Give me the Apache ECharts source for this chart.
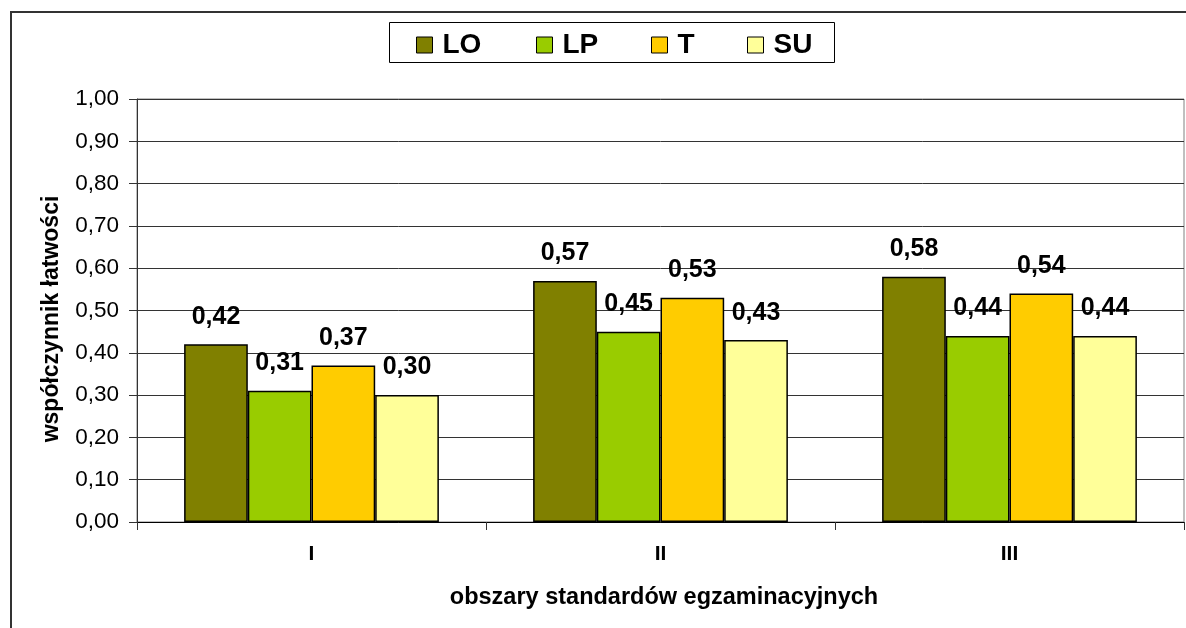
<!DOCTYPE html>
<html><head><meta charset="utf-8">
<script src="https://cdn.jsdelivr.net/npm/echarts@6/dist/echarts.min.js"></script>
<style>html,body{margin:0;padding:0;background:#fff}#c{width:1186px;height:628px}</style>
</head><body><div id="c"></div>
<script>
const categories = ['I', 'II', 'III'];
const seriesNames = ['LO', 'LP', 'T', 'SU'];
const LO = [0.42, 0.57, 0.58];
const LP = [0.31, 0.45, 0.44];
const T  = [0.37, 0.53, 0.54];
const SU = [0.30, 0.43, 0.44];
const yAxisName = 'współczynnik łatwości';
const xAxisName = 'obszary standardów egzaminacyjnych';

const colors = ['#808000', '#99CC00', '#FFCC00', '#FFFF99'];
const values = [LO, LP, T, SU];
const FONT = '"Liberation Sans", Arial, sans-serif';
const fmt = v => v.toFixed(2).replace('.', ',');

const legendLefts = [416, 536, 651, 747];

const chart = echarts.init(document.getElementById('c'), null, {renderer: 'canvas'});
chart.setOption({
  animation: false,
  backgroundColor: '#fff',
  textStyle: {fontFamily: FONT},
  graphic: [
    {type: 'rect', shape: {x: 11, y: 12, width: 1250, height: 700}, style: {fill: 'none', stroke: '#333', lineWidth: 2}, silent: true, z: -1},
    {type: 'rect', shape: {x: 389.5, y: 22.5, width: 445, height: 40}, style: {fill: '#fff', stroke: '#000', lineWidth: 1}, silent: true, z: 0},
    {type: 'text', x: 52, y: 319, rotation: Math.PI / 2, style: {text: yAxisName, fill: '#000', font: 'bold 23px ' + FONT, textAlign: 'center', textVerticalAlign: 'middle'}, silent: true},
    {type: 'text', x: 664, y: 598, style: {text: xAxisName, fill: '#000', font: 'bold 23.5px ' + FONT, textAlign: 'center', textVerticalAlign: 'middle'}, silent: true}
  ],
  legend: seriesNames.map((n, i) => ({
    data: [n],
    left: legendLefts[i],
    top: 31,
    padding: 0,
    itemWidth: 16,
    itemHeight: 16,
    icon: 'rect',
    z: 5,
    itemStyle: {borderColor: '#000', borderWidth: 1},
    textStyle: {fontSize: 28, fontWeight: 'bold', color: '#000', fontFamily: FONT, lineHeight: 28, padding: [0, 0, 0, 5]}
  })),
  grid: {left: 137, top: 99, right: 2, bottom: 106, show: true, borderColor: '#808080', borderWidth: 1, backgroundColor: 'transparent'},
  xAxis: {
    type: 'category',
    data: categories,
    axisLine: {lineStyle: {color: '#000', width: 1}},
    axisTick: {show: true, length: 8, lineStyle: {color: '#333'}},
    axisLabel: {margin: 22, fontSize: 21, fontWeight: 'bold', color: '#000', fontFamily: FONT}
  },
  yAxis: {
    type: 'value',
    min: 0, max: 1, interval: 0.1,
    axisLine: {show: true, lineStyle: {color: '#333', width: 1}},
    axisTick: {show: true, length: 8, lineStyle: {color: '#333'}},
    axisLabel: {margin: 18, fontSize: 22.5, color: '#000', fontFamily: FONT, formatter: fmt},
    splitLine: {show: true, lineStyle: {color: '#333', width: 1}}
  },
  series: seriesNames.map((n, i) => ({
    name: n,
    type: 'bar',
    data: values[i],
    barGap: '0%',
    barCategoryGap: '27%',
    itemStyle: {color: colors[i], borderColor: '#000', borderWidth: 1.5},
    label: {show: true, position: 'top', distance: 15, fontSize: 25, fontWeight: 'bold', color: '#000', fontFamily: FONT, lineHeight: 25, formatter: p => fmt(p.value)}
  }))
});
</script></body></html>
